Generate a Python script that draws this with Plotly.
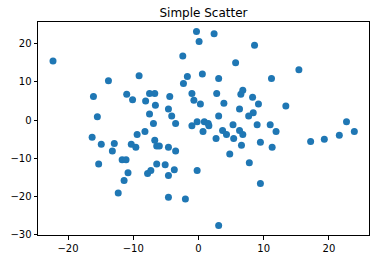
import plotly.graph_objects as go

x_vals = [-22.3, -0.3, 2.4, 0.1, 8.6, -2.4, 5.7, 15.4, -13.8, -9.1,
          -1.7, 0.6, 3.1, 11.2, -2.3, -16.1, -11.0, -10.1, -8.1, -7.5,
          -6.7, -6.6, -4.4, -1.0, -0.7, 0.3, 2.8, 3.9, 6.8, 6.5,
          8.3, 9.2, 6.3, 8.4, 7.7, 13.4, -15.5, -7.5, -4.6, -4.1,
          -3.5, -6.9, -1.0, -0.2, 0.9, 1.5, 1.6, 3.1, 0.7, 5.3,
          9.0, 11.0, 11.9, 3.7, 4.3, 2.7, 5.4, 6.3, 6.8, 6.6,
          9.5, 11.3, 4.8, 7.8, 9.5, 17.2, 19.3, 21.6, 22.7, 23.9,
          -16.3, -14.9, -12.9, -13.2, -15.3, -11.7, -11.1, -10.3, -9.6, -9.4,
          -8.2, -6.7, -6.4, -6.0, -4.6, -3.5, -6.4, -5.1, -10.8, -11.4,
          -12.3, -7.8, -7.3, -4.6, -3.7, -4.6, -2.0, -0.2, 3.1]
y_vals = [15.5, 23.2, 22.6, 20.6, 19.6, 16.8, 15.0, 13.2, 10.3, 11.6,
          11.4, 12.1, 10.9, 10.9, 9.6, 6.2, 6.8, 5.3, 5.0, 7.0,
          7.0, 3.9, 6.2, 7.0, 5.2, 4.2, 7.0, 4.4, 7.8, 6.8,
          6.0, 4.2, 2.9, 1.9, 1.1, 3.7, 0.9, 1.6, 2.9, 1.1,
          -0.9, -0.9, -1.5, -0.4, -0.4, -0.9, -1.5, 1.1, -3.0, -1.2,
          -1.2, -1.2, -3.0, -2.7, -3.8, -4.8, -4.8, -2.7, -3.8, -6.6,
          -5.8, -7.1, -8.9, -11.2, -16.6, -5.6, -5.0, -4.0, -0.4, -3.0,
          -4.5, -6.3, -6.1, -8.1, -11.5, -10.4, -10.4, -6.3, -7.1, -3.8,
          -3.0, -5.3, -6.8, -6.8, -7.1, -8.1, -11.5, -11.7, -13.8, -15.8,
          -19.1, -14.0, -13.2, -14.5, -13.0, -20.2, -20.7, -13.2, -27.6]

x_ticks = [-20, -10, 0, 10, 20]
y_ticks = [-30, -20, -10, 0, 10, 20]
title_text = "Simple Scatter"

fig = go.Figure()
fig.add_trace(go.Scatter(
    x=x_vals, y=y_vals, mode="markers",
    marker=dict(color="#1f77b4", size=7, line=dict(width=0)),
))

axis_common = dict(
    showgrid=False, zeroline=False, showline=True, mirror=True,
    linecolor="black", linewidth=1, ticks="outside", ticklen=3.5,
    tickwidth=1, tickcolor="black",
    tickfont=dict(family="DejaVu Sans", size=10, color="black"),
)

fig.update_layout(
    width=380, height=264,
    margin=dict(l=35, r=10, t=22, b=24),
    paper_bgcolor="white", plot_bgcolor="white",
    showlegend=False,
    title=dict(text=title_text, x=0.5, xref="paper", xanchor="center",
               y=1 - 12.7 / 264, yref="container", yanchor="middle",
               font=dict(family="DejaVu Sans", size=12, color="black")),
    xaxis=dict(range=[-24.6, 26.15], tickvals=x_ticks, **axis_common),
    yaxis=dict(range=[-30.1, 25.7], tickvals=y_ticks, **axis_common),
)

fig.write_html("out.html")
